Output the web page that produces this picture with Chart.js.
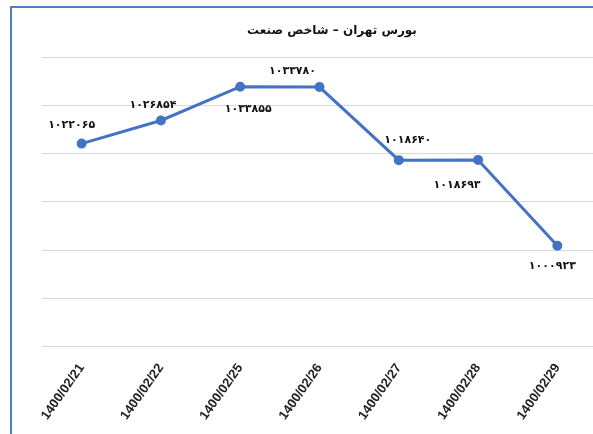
<!DOCTYPE html>
<html>
<head>
<meta charset="utf-8">
<script src="https://cdn.jsdelivr.net/npm/chart.js@4.4.1/dist/chart.umd.min.js"></script>
<style>
  html, body { margin: 0; padding: 0; background: #ffffff; }
  #page { position: relative; width: 593px; height: 434px; overflow: hidden; background: #fff; }
  #frame { position: absolute; left: 10px; top: 6px; width: 640px; height: 440px;
           border-left: 2px solid #4f7fc0; border-top: 2px solid #4f7fc0; }
  #wrap { position: absolute; left: 0; top: 0; width: 640px; height: 431px; }
</style>
</head>
<body>
<div id="page">
  <div id="frame">
    <div id="wrap"><canvas id="c"></canvas></div>
  </div>
</div>
<script>
const categories = ['1400/02/21', '1400/02/22', '1400/02/25', '1400/02/26', '1400/02/27', '1400/02/28', '1400/02/29'];
const values = [1022065, 1026854, 1033855, 1033780, 1018640, 1018693, 1000923];
const yMin = 980000;
const yMax = 1040000;
const yStep = 10000;
const titleText = 'بورس تهران – شاخص صنعت';

// label placement (style only)
const labelDx = [-10, -8, 8, -27, 9, -21, -5];
const labelDy = [-18, -15, 22, -16, -20, 25, 20];

function toPersianDigits(n) {
  const d = '۰۱۲۳۴۵۶۷۸۹';
  return String(n).replace(/[0-9]/g, ch => d[+ch]);
}

const labelPlugin = {
  id: 'pointLabels',
  afterDatasetsDraw(chart) {
    const ctx = chart.ctx;
    const meta = chart.getDatasetMeta(0);
    ctx.save();
    ctx.font = 'bold 11px "DejaVu Sans"';
    ctx.fillStyle = '#111';
    ctx.textAlign = 'center';
    ctx.textBaseline = 'middle';
    meta.data.forEach((pt, i) => {
      ctx.fillText(toPersianDigits(values[i]), pt.x + labelDx[i], pt.y + labelDy[i]);
    });
    ctx.restore();
  }
};

const titlePlugin = {
  id: 'chartTitle',
  afterDraw(chart) {
    const ctx = chart.ctx;
    ctx.save();
    ctx.font = 'bold 12px "DejaVu Sans"';
    ctx.fillStyle = '#111';
    ctx.textAlign = 'center';
    ctx.textBaseline = 'middle';
    ctx.fillText(titleText, chart.width / 2, 23);
    ctx.restore();
  }
};

new Chart(document.getElementById('c'), {
  type: 'line',
  data: {
    labels: categories,
    datasets: [{
      data: values,
      borderColor: '#4472c4',
      backgroundColor: '#4472c4',
      borderWidth: 3,
      pointRadius: 3.5,
      pointHoverRadius: 3.5,
      pointBackgroundColor: '#4472c4',
      pointBorderColor: '#4472c4',
      tension: 0,
      fill: false
    }]
  },
  options: {
    responsive: true,
    maintainAspectRatio: false,
    animation: false,
    layout: { padding: { left: 30, right: 55, top: 49, bottom: 2 } },
    plugins: {
      legend: { display: false },
      tooltip: { enabled: false },
      title: { display: false }
    },
    scales: {
      x: {
        offset: true,
        grid: { display: false, drawTicks: false },
        border: { display: false },
        ticks: {
          color: '#222',
          font: { family: 'Liberation Sans', size: 13, weight: 'bold' },
          minRotation: 55,
          maxRotation: 55,
          autoSkip: false,
          padding: 14
        }
      },
      y: {
        min: yMin,
        max: yMax,
        grid: { color: '#d9d9d9', lineWidth: 1, drawTicks: false },
        border: { display: false },
        ticks: { display: false, stepSize: yStep }
      }
    }
  },
  plugins: [labelPlugin, titlePlugin]
});
</script>
</body>
</html>
